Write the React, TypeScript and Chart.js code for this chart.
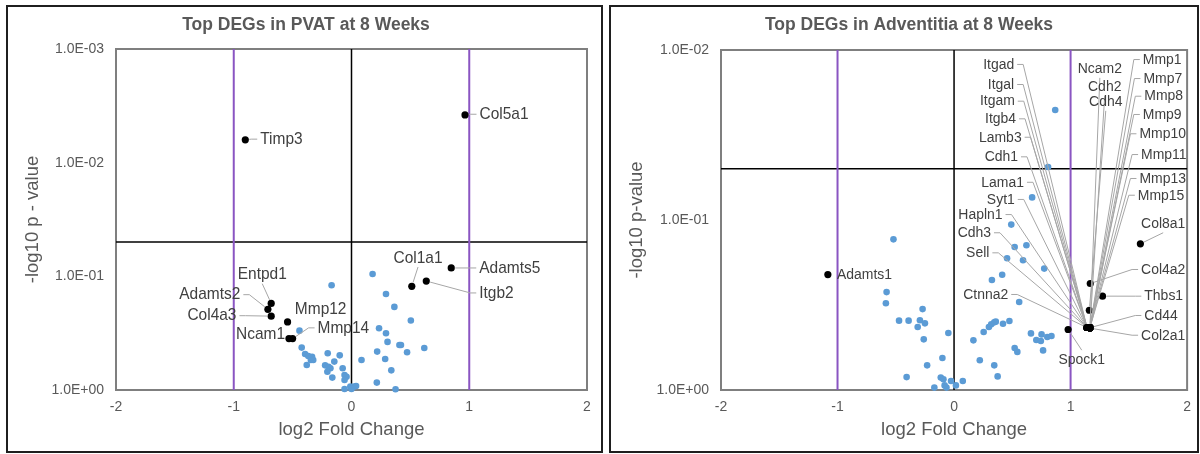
import React, { useEffect, useRef } from "react";
import { Chart, registerables } from "chart.js";

Chart.register(...registerables);

const FONT = '"Liberation Sans", Arial, Helvetica, sans-serif';

// ---------- shared ----------
const xTickValues = [-2, -1, 0, 1, 2];
const foldThresholds = [-1, 1];
const zeroFold = [0];
const pThreshold = 0.05;
const xAxisTitle = "log2 Fold Change";

// ---------- PVAT ----------
const pvatTitle = "Top DEGs in PVAT at 8 Weeks";
const pvatYTitle = "-log10 p - value";
const pvatYTicks = [0.001, 0.01, 0.1, 1];

const pvatOtherFC = [
  0.179, -0.169, 0.293, 0.364, 0.504, 0.234, 0.293, 0.306, 0.407, 0.42, 0.618, 0.472, 0.218, 0.286, 0.085,
  0.338, 0.215, 0.374, -0.442, -0.423, -0.394, -0.367, -0.335, -0.345, -0.325, -0.38, -0.202, -0.1, -0.146,
  -0.224, -0.195, -0.179, -0.205, -0.163, -0.075, -0.059, -0.042, -0.059, -0.01, 0.023, 0.039, -0.059, 0.0,
];
const pvatOtherP = [
  0.0953, 0.1197, 0.1429, 0.1858, 0.2449, 0.2864, 0.317, 0.3776, 0.4018, 0.4018, 0.4266, 0.4656, 0.4592, 0.5333,
  0.5445, 0.6714, 0.861, 0.9863, 0.3006, 0.4236, 0.4819, 0.5023, 0.5093, 0.5445, 0.5445, 0.6026, 0.4753, 0.4955,
  0.5623, 0.6067, 0.6237, 0.6442, 0.6902, 0.778, 0.6442, 0.7379, 0.7638, 0.8166, 0.9333, 0.9333, 0.9226, 0.9795,
  0.9795,
];

const pvatTopGenes = ["Timp3", "Col5a1", "Adamts5", "Itgb2", "Col1a1", "Entpd1", "Adamts2", "Col4a3", "Mmp12", "Ncam1", "Mmp14"];
const pvatTopFC = [-0.902, 0.964, 0.847, 0.635, 0.512, -0.682, -0.71, -0.682, -0.543, -0.531, -0.5];
const pvatTopP = [0.0063, 0.0038, 0.0844, 0.11, 0.1225, 0.173, 0.195, 0.224, 0.252, 0.353, 0.353];

// label placement (annotation layout, in data units)
const pvatLabelLayout = [
  { gene: "Timp3", fc: -0.775, p: 0.00621, align: "left", leader: "side" },
  { gene: "Col5a1", fc: 1.087, p: 0.00375, align: "left", leader: "side" },
  { gene: "Adamts5", fc: 1.085, p: 0.0844, align: "left", leader: "side" },
  { gene: "Itgb2", fc: 1.085, p: 0.14, align: "left", leader: "side" },
  { gene: "Col1a1", fc: 0.565, p: 0.069, align: "center", leader: "below" },
  { gene: "Entpd1", fc: -0.758, p: 0.0967, align: "center", leader: "below" },
  { gene: "Adamts2", fc: -0.944, p: 0.145, align: "right", leader: "side" },
  { gene: "Col4a3", fc: -0.977, p: 0.222, align: "right", leader: "side" },
  { gene: "Mmp12", fc: -0.262, p: 0.196, align: "center", leader: "none" },
  { gene: "Ncam1", fc: -0.564, p: 0.321, align: "right", leader: "none" },
  { gene: "Mmp14", fc: -0.288, p: 0.284, align: "left", leader: "side" },
];

// ---------- Adventitia ----------
const advTitle = "Top DEGs in Adventitia at 8 Weeks";
const advYTitle = "-log10 p-value";
const advYTicks = [0.01, 0.1, 1];

const advOtherFC = [
  0.868, 0.807, 0.67, 0.491, 0.52, 0.621, 0.455, 0.592, 0.774, 0.325, 0.413, 0.559, -0.52, -0.579, -0.585, -0.27,
  -0.472, -0.39, -0.293, -0.25, -0.312, -0.26, -0.049, 0.299, 0.319, 0.345, 0.358, 0.42, 0.475, 0.254, 0.166, 0.66,
  0.706, 0.745, 0.751, 0.8, 0.836, 0.764, 0.52, 0.543, -0.1, 0.221, 0.345, 0.374, -0.231, -0.407, -0.114, -0.091,
  -0.026, 0.075, -0.081, 0.016, -0.169, -0.065,
];
const advOtherP = [
  0.02254, 0.04875, 0.07362, 0.1064, 0.1442, 0.1409, 0.1679, 0.1726, 0.1932, 0.2254, 0.2099, 0.3034, 0.13, 0.2655,
  0.309, 0.3342, 0.3908, 0.3908, 0.389, 0.4055, 0.4256, 0.5035, 0.4624, 0.4256, 0.4111, 0.3999, 0.3963, 0.4074,
  0.3926, 0.456, 0.5105, 0.4645, 0.5082, 0.5152, 0.471, 0.4875, 0.4808, 0.5848, 0.5662, 0.597, 0.6486, 0.6683,
  0.7161, 0.8318, 0.7161, 0.8395, 0.8453, 0.865, 0.8851, 0.8851, 0.9397, 0.9397, 0.9683, 0.9683,
];

const advTopGenes = [
  "Adamts1", "Col8a1", "Col4a2", "Thbs1", "Cdh4", "Spock1", "Col2a1", "Cd44",
  "Itgad", "Itgal", "Itgam", "Itgb4", "Lamb3", "Cdh1", "Lama1", "Syt1", "Hapln1", "Cdh3", "Sell", "Ctnna2",
  "Ncam2", "Cdh2", "Mmp1", "Mmp7", "Mmp8", "Mmp9", "Mmp10", "Mmp11", "Mmp13", "Mmp15",
];
const advTopFC = [
  -1.083, 1.599, 1.169, 1.274, 1.161, 0.979, 1.166, 1.166,
  1.141, 1.141, 1.141, 1.141, 1.141, 1.141, 1.141, 1.141, 1.141, 1.141, 1.141, 1.141,
  1.166, 1.166, 1.166, 1.166, 1.166, 1.166, 1.166, 1.166, 1.166, 1.166,
];
const advTopP = [
  0.2094, 0.138, 0.2364, 0.2805, 0.3396, 0.4406, 0.4325, 0.43,
  0.4289, 0.4289, 0.4289, 0.4289, 0.4289, 0.4289, 0.4289, 0.4289, 0.4289, 0.4289, 0.4289, 0.4289,
  0.43, 0.43, 0.43, 0.43, 0.43, 0.43, 0.43, 0.43, 0.43, 0.43,
];

const advLabelLayout = [
  { gene: "Itgad", fc: 0.516, p: 0.01216, align: "right", leader: "side" },
  { gene: "Itgal", fc: 0.516, p: 0.01596, align: "right", leader: "side" },
  { gene: "Itgam", fc: 0.521, p: 0.02, align: "right", leader: "side" },
  { gene: "Itgb4", fc: 0.532, p: 0.0254, align: "right", leader: "side" },
  { gene: "Lamb3", fc: 0.58, p: 0.0326, align: "right", leader: "side" },
  { gene: "Cdh1", fc: 0.549, p: 0.0425, align: "right", leader: "side" },
  { gene: "Lama1", fc: 0.6, p: 0.06, align: "right", leader: "side" },
  { gene: "Syt1", fc: 0.521, p: 0.0757, align: "right", leader: "side" },
  { gene: "Hapln1", fc: 0.416, p: 0.0929, align: "right", leader: "side" },
  { gene: "Cdh3", fc: 0.317, p: 0.1189, align: "right", leader: "side" },
  { gene: "Sell", fc: 0.303, p: 0.156, align: "right", leader: "side" },
  { gene: "Ctnna2", fc: 0.465, p: 0.2742, align: "right", leader: "side" },
  { gene: "Ncam2", fc: 1.251, p: 0.01291, align: "center", leader: "below" },
  { gene: "Cdh2", fc: 1.293, p: 0.01645, align: "center", leader: "below" },
  { gene: "Cdh4", fc: 1.302, p: 0.02018, align: "center", leader: "below" },
  { gene: "Mmp1", fc: 1.62, p: 0.01138, align: "left", leader: "side" },
  { gene: "Mmp7", fc: 1.625, p: 0.01472, align: "left", leader: "side" },
  { gene: "Mmp8", fc: 1.633, p: 0.0187, align: "left", leader: "side" },
  { gene: "Mmp9", fc: 1.62, p: 0.02395, align: "left", leader: "side" },
  { gene: "Mmp10", fc: 1.591, p: 0.0311, align: "left", leader: "side" },
  { gene: "Mmp11", fc: 1.605, p: 0.0412, align: "left", leader: "side" },
  { gene: "Mmp13", fc: 1.591, p: 0.057, align: "left", leader: "side" },
  { gene: "Mmp15", fc: 1.577, p: 0.0715, align: "left", leader: "side" },
  { gene: "Col8a1", fc: 1.605, p: 0.1052, align: "left", leader: "below" },
  { gene: "Col4a2", fc: 1.605, p: 0.1955, align: "left", leader: "side" },
  { gene: "Thbs1", fc: 1.633, p: 0.2806, align: "left", leader: "side" },
  { gene: "Cd44", fc: 1.633, p: 0.3645, align: "left", leader: "side" },
  { gene: "Col2a1", fc: 1.605, p: 0.4762, align: "left", leader: "side" },
  { gene: "Spock1", fc: 1.096, p: 0.668, align: "center", leader: "above" },
  { gene: "Adamts1", fc: -1.005, p: 0.2085, align: "left", leader: "none" },
];

// ---------- helpers ----------
function fmtP(v: number) {
  const [m, ex] = Number(v).toExponential(1).split("e");
  const n = parseInt(ex, 10);
  return `${m}E${n < 0 ? "-" : "+"}${String(Math.abs(n)).padStart(2, "0")}`;
}

type PanelCfg = {
  key: string;
  title: string;
  titleX: number;
  yTitle: string;
  yTitlePad: number;
  yTicks: number[];
  yWidth: number;
  padRight: number;
  padTop: number;
  labelSize: number;
  labelScaleX: number;
  otherFC: number[];
  otherP: number[];
  genes: string[];
  fc: number[];
  p: number[];
  labels: any[];
};

function makeOverlay(cfg: PanelCfg) {
  return {
    id: "overlay_" + cfg.key,
    beforeDatasetsDraw(chart: any) {
      const { ctx, chartArea: a } = chart;
      ctx.save();
      ctx.strokeStyle = "#7f7f7f";
      ctx.lineWidth = 2;
      ctx.strokeRect(a.left, a.top, a.right - a.left, a.bottom - a.top);
      ctx.restore();
    },
    afterDatasetsDraw(chart: any) {
      const { ctx } = chart;
      const xs = chart.scales.x;
      const ys = chart.scales.y;
      const sx = cfg.labelScaleX;
      ctx.save();
      ctx.font = `${cfg.labelSize}px ${FONT}`;
      ctx.textBaseline = "middle";
      ctx.strokeStyle = "#a6a6a6";
      ctx.lineWidth = 1;
      for (const lab of cfg.labels) {
        if (lab.leader === "none") continue;
        const gi = cfg.genes.indexOf(lab.gene);
        const px = xs.getPixelForValue(cfg.fc[gi]);
        const py = ys.getPixelForValue(cfg.p[gi]);
        const tx = xs.getPixelForValue(lab.fc);
        const ty = ys.getPixelForValue(lab.p);
        const w = ctx.measureText(lab.gene).width * sx;
        const left = lab.align === "left" ? tx : lab.align === "right" ? tx - w : tx - w / 2;
        let pts: number[][] = [];
        if (lab.leader === "side") {
          pts = lab.align === "right" ? [[left + w + 3, ty], [left + w + 9, ty]] : [[left - 3, ty], [left - 9, ty]];
        } else if (lab.leader === "below") {
          pts = [[left + w / 2, ty + 9]];
        } else if (lab.leader === "above") {
          pts = [[left + w / 2, ty - 10]];
        }
        const [lx, ly] = pts[pts.length - 1];
        const dx = px - lx;
        const dy = py - ly;
        const d = Math.hypot(dx, dy);
        const ex = d > 4 ? px - (dx / d) * 4 : lx;
        const ey = d > 4 ? py - (dy / d) * 4 : ly;
        ctx.beginPath();
        ctx.moveTo(pts[0][0], pts[0][1]);
        for (let i = 1; i < pts.length; i++) ctx.lineTo(pts[i][0], pts[i][1]);
        ctx.lineTo(ex, ey);
        ctx.stroke();
      }
      ctx.fillStyle = "#404040";
      for (const lab of cfg.labels) {
        ctx.save();
        ctx.translate(xs.getPixelForValue(lab.fc), ys.getPixelForValue(lab.p));
        ctx.scale(sx, 1);
        ctx.textAlign = lab.align;
        ctx.fillText(lab.gene, 0, 0);
        ctx.restore();
      }
      ctx.font = `bold 17.5px ${FONT}`;
      ctx.fillStyle = "#595959";
      ctx.textAlign = "center";
      ctx.fillText(cfg.title, cfg.titleX, 25);
      ctx.restore();
    },
  };
}

function buildConfig(cfg: PanelCfg): any {
  const yMin = cfg.yTicks[0];
  const yMax = cfg.yTicks[cfg.yTicks.length - 1];
  const xMin = xTickValues[0];
  const xMax = xTickValues[xTickValues.length - 1];
  const lineSets: any[] = [];
  foldThresholds.forEach((f) =>
    lineSets.push({
      data: [{ x: f, y: yMin }, { x: f, y: yMax }],
      showLine: true, pointRadius: 0, borderColor: "#8a55c2", borderWidth: 2, order: 5, clip: false,
    })
  );
  zeroFold.forEach((f) =>
    lineSets.push({
      data: [{ x: f, y: yMin }, { x: f, y: yMax }],
      showLine: true, pointRadius: 0, borderColor: "#000000", borderWidth: 1.5, order: 5, clip: false,
    })
  );
  lineSets.push({
    data: [{ x: xMin, y: pThreshold }, { x: xMax, y: pThreshold }],
    showLine: true, pointRadius: 0, borderColor: "#000000", borderWidth: 1.5, order: 5, clip: false,
  });

  return {
    type: "scatter",
    data: {
      datasets: [
        ...lineSets,
        {
          data: cfg.otherFC.map((x, i) => ({ x, y: cfg.otherP[i] })),
          backgroundColor: "#5b9bd5", borderWidth: 0, pointRadius: 3.3, order: 3, clip: false,
        },
        {
          data: cfg.fc.map((x, i) => ({ x, y: cfg.p[i] })),
          backgroundColor: "#000000", borderWidth: 0, pointRadius: 3.6, order: 1, clip: false,
        },
      ],
    },
    options: {
      responsive: false,
      animation: false,
      events: [],
      layout: { padding: { left: 0, right: cfg.padRight, top: cfg.padTop, bottom: 0 } },
      plugins: { legend: { display: false }, tooltip: { enabled: false }, title: { display: false } },
      scales: {
        x: {
          type: "linear",
          min: xMin,
          max: xMax,
          afterBuildTicks: (s: any) => { s.ticks = xTickValues.map((v) => ({ value: v })); },
          afterFit: (s: any) => { s.height = 64; },
          grid: { display: false, drawTicks: false },
          border: { display: false },
          ticks: { padding: 9, color: "#595959", font: { family: FONT, size: 14 } },
          title: {
            display: true, text: xAxisTitle, color: "#595959",
            font: { family: FONT, size: 18.5 }, padding: { top: 0, bottom: 13 },
          },
        },
        y: {
          type: "logarithmic",
          reverse: true,
          min: yMin,
          max: yMax,
          afterBuildTicks: (s: any) => { s.ticks = cfg.yTicks.map((v) => ({ value: v, major: true })); },
          afterFit: (s: any) => { s.width = cfg.yWidth; },
          grid: { display: false, drawTicks: false },
          border: { display: false },
          ticks: {
            padding: 12, color: "#595959", font: { family: FONT, size: 14 },
            callback: (v: any) => fmtP(Number(v)), autoSkip: false,
          },
          title: {
            display: true, text: cfg.yTitle, color: "#595959",
            font: { family: FONT, size: 18.5 }, padding: { top: cfg.yTitlePad, bottom: 0 },
          },
        },
      },
    },
    plugins: [makeOverlay(cfg)],
  };
}

const pvatCfg: PanelCfg = {
  key: "pvat", title: pvatTitle, titleX: 306, yTitle: pvatYTitle, yTitlePad: 22, yTicks: pvatYTicks,
  yWidth: 116, padRight: 13, padTop: 49, labelSize: 17, labelScaleX: 0.91,
  otherFC: pvatOtherFC, otherP: pvatOtherP,
  genes: pvatTopGenes, fc: pvatTopFC, p: pvatTopP, labels: pvatLabelLayout,
};
const advCfg: PanelCfg = {
  key: "adv", title: advTitle, titleX: 309, yTitle: advYTitle, yTitlePad: 26, yTicks: advYTicks,
  yWidth: 121, padRight: 9, padTop: 50, labelSize: 15.5, labelScaleX: 0.9,
  otherFC: advOtherFC, otherP: advOtherP,
  genes: advTopGenes, fc: advTopFC, p: advTopP, labels: advLabelLayout,
};

function Panel({ cfg, left }: { cfg: PanelCfg; left: number }) {
  const ref = useRef<HTMLCanvasElement | null>(null);
  useEffect(() => {
    if (!ref.current) return;
    const chart = new Chart(ref.current, buildConfig(cfg));
    return () => chart.destroy();
  }, [cfg]);
  return (
    <canvas
      ref={ref}
      width={600}
      height={454}
      style={{ position: "absolute", left, top: 0, width: 600, height: 454 }}
    />
  );
}

export default function App() {
  return (
    <div style={{ position: "fixed", left: 0, top: 0, width: 1200, height: 454, background: "#ffffff", overflow: "hidden" }}>
      <Panel cfg={pvatCfg} left={0} />
      <Panel cfg={advCfg} left={600} />
      <div style={{ position: "absolute", left: 6, top: 5, width: 597, height: 448, border: "2px solid #1f1f1f", boxSizing: "border-box", pointerEvents: "none" }} />
      <div style={{ position: "absolute", left: 609, top: 5, width: 590, height: 448, border: "2px solid #1f1f1f", boxSizing: "border-box", pointerEvents: "none" }} />
    </div>
  );
}
